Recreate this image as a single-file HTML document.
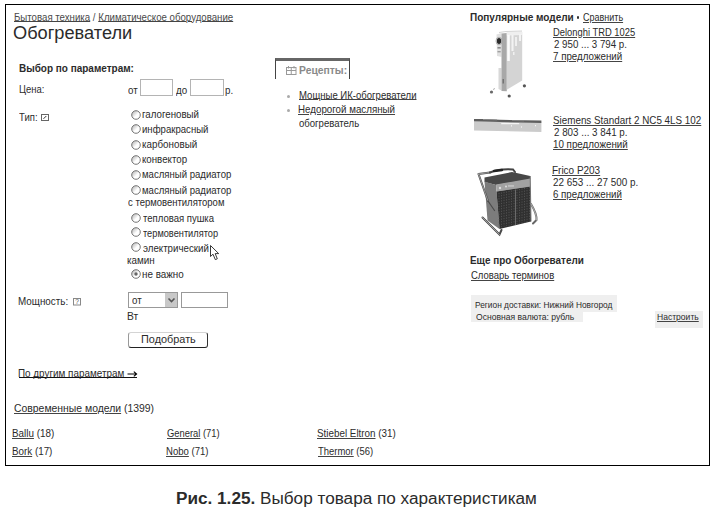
<!DOCTYPE html>
<html><head><meta charset="utf-8"><style>
html,body{margin:0;padding:0;background:#fff;}
body{width:716px;height:511px;position:relative;overflow:hidden;font-family:"Liberation Sans", sans-serif;color:#2b2b2b;}
.t{position:absolute;white-space:nowrap;transform-origin:0 0;}
.r{position:absolute;box-sizing:border-box;}
svg.r{overflow:visible;}

u{text-decoration:underline;text-decoration-thickness:1px;text-underline-offset:0.6px;text-decoration-color:#444;}
#frame{position:absolute;left:5px;top:4px;width:705px;height:462px;border:1px solid #000;box-sizing:border-box;}

</style></head><body>
<div id="frame"></div>
<div class="r" style="left:140px;top:79px;width:33px;height:17px;border:1px solid #b4b4b4;"></div>
<div class="r" style="left:190px;top:79px;width:34px;height:17px;border:1px solid #b4b4b4;"></div>
<svg class="r" style="left:41px;top:114px" width="8" height="7" viewBox="0 0 8 7"><rect x="0.5" y="0.5" width="7" height="6" fill="#fff" stroke="#666" stroke-width="1"/><path d="M2.5 4.8 L5.3 2" stroke="#333" stroke-width="1"/></svg>
<svg class="r" style="left:130.8px;top:109.6px" width="10" height="10" viewBox="0 0 10 10"><defs><linearGradient id="g0" x1="0" y1="0" x2="1" y2="1"><stop offset="0" stop-color="#aaa"/><stop offset="0.55" stop-color="#fff"/></linearGradient></defs><circle cx="5" cy="5" r="4.3" fill="url(#g0)" stroke="#666" stroke-width="0.9"/></svg>
<svg class="r" style="left:130.8px;top:124.3px" width="10" height="10" viewBox="0 0 10 10"><defs><linearGradient id="g1" x1="0" y1="0" x2="1" y2="1"><stop offset="0" stop-color="#aaa"/><stop offset="0.55" stop-color="#fff"/></linearGradient></defs><circle cx="5" cy="5" r="4.3" fill="url(#g1)" stroke="#666" stroke-width="0.9"/></svg>
<svg class="r" style="left:130.8px;top:139.6px" width="10" height="10" viewBox="0 0 10 10"><defs><linearGradient id="g2" x1="0" y1="0" x2="1" y2="1"><stop offset="0" stop-color="#aaa"/><stop offset="0.55" stop-color="#fff"/></linearGradient></defs><circle cx="5" cy="5" r="4.3" fill="url(#g2)" stroke="#666" stroke-width="0.9"/></svg>
<svg class="r" style="left:130.8px;top:154.8px" width="10" height="10" viewBox="0 0 10 10"><defs><linearGradient id="g3" x1="0" y1="0" x2="1" y2="1"><stop offset="0" stop-color="#aaa"/><stop offset="0.55" stop-color="#fff"/></linearGradient></defs><circle cx="5" cy="5" r="4.3" fill="url(#g3)" stroke="#666" stroke-width="0.9"/></svg>
<svg class="r" style="left:130.8px;top:170.1px" width="10" height="10" viewBox="0 0 10 10"><defs><linearGradient id="g4" x1="0" y1="0" x2="1" y2="1"><stop offset="0" stop-color="#aaa"/><stop offset="0.55" stop-color="#fff"/></linearGradient></defs><circle cx="5" cy="5" r="4.3" fill="url(#g4)" stroke="#666" stroke-width="0.9"/></svg>
<svg class="r" style="left:130.8px;top:185.4px" width="10" height="10" viewBox="0 0 10 10"><defs><linearGradient id="g5" x1="0" y1="0" x2="1" y2="1"><stop offset="0" stop-color="#aaa"/><stop offset="0.55" stop-color="#fff"/></linearGradient></defs><circle cx="5" cy="5" r="4.3" fill="url(#g5)" stroke="#666" stroke-width="0.9"/></svg>
<svg class="r" style="left:130.8px;top:212.8px" width="10" height="10" viewBox="0 0 10 10"><defs><linearGradient id="g6" x1="0" y1="0" x2="1" y2="1"><stop offset="0" stop-color="#aaa"/><stop offset="0.55" stop-color="#fff"/></linearGradient></defs><circle cx="5" cy="5" r="4.3" fill="url(#g6)" stroke="#666" stroke-width="0.9"/></svg>
<svg class="r" style="left:130.8px;top:227.4px" width="10" height="10" viewBox="0 0 10 10"><defs><linearGradient id="g7" x1="0" y1="0" x2="1" y2="1"><stop offset="0" stop-color="#aaa"/><stop offset="0.55" stop-color="#fff"/></linearGradient></defs><circle cx="5" cy="5" r="4.3" fill="url(#g7)" stroke="#666" stroke-width="0.9"/></svg>
<svg class="r" style="left:130.8px;top:242.4px" width="10" height="10" viewBox="0 0 10 10"><defs><linearGradient id="g8" x1="0" y1="0" x2="1" y2="1"><stop offset="0" stop-color="#aaa"/><stop offset="0.55" stop-color="#fff"/></linearGradient></defs><circle cx="5" cy="5" r="4.3" fill="url(#g8)" stroke="#666" stroke-width="0.9"/></svg>
<svg class="r" style="left:130.8px;top:268.7px" width="10" height="10" viewBox="0 0 10 10"><defs><linearGradient id="g9" x1="0" y1="0" x2="1" y2="1"><stop offset="0" stop-color="#aaa"/><stop offset="0.55" stop-color="#fff"/></linearGradient></defs><circle cx="5" cy="5" r="4.3" fill="url(#g9)" stroke="#666" stroke-width="0.9"/><circle cx="5" cy="5" r="1.7" fill="#666"/></svg>
<svg class="r" style="left:210px;top:245px" width="11" height="16" viewBox="0 0 11 16"><path d="M0.5 0.5 L0.5 11.5 L3 9.2 L5.3 14.6 L7.3 13.8 L5.2 8.6 L8.7 8.6 Z" fill="#fff" stroke="#222" stroke-width="0.9" stroke-linejoin="miter"/></svg>
<svg class="r" style="left:72.5px;top:298px" width="8" height="8" viewBox="0 0 8 8"><rect x="0.5" y="0.5" width="7" height="6.5" fill="#fff" stroke="#888" stroke-width="1"/><text x="4" y="6.3" font-size="6.5" text-anchor="middle" fill="#555" font-family="Liberation Sans">?</text></svg>
<div class="r" style="left:128px;top:292px;width:50px;height:16px;border:1px solid #999;background:#fff;"></div>
<div class="r" style="left:165px;top:293px;width:12px;height:14px;background:#c8c8c8;"></div>
<svg class="r" style="left:168px;top:298px" width="7" height="5" viewBox="0 0 7 5"><path d="M0.5 0.5 L3.5 3.5 L6.5 0.5" fill="none" stroke="#555" stroke-width="1.6"/></svg>
<div class="r" style="left:181px;top:292px;width:47px;height:16px;border:1px solid #999;"></div>
<div class="r" style="left:128px;top:332px;width:80px;height:16px;border:1px solid #999;border-top-color:#d4d4d4;border-right-color:#333;border-bottom-color:#222;border-radius:3px;background:#fff;"></div>
<svg class="r" style="left:126.5px;top:370.5px" width="11" height="6" viewBox="0 0 11 6"><path d="M0.5 3 H9.5 M6.8 0.6 L9.6 3 L6.8 5.4" fill="none" stroke="#000" stroke-width="1.1"/></svg>
<div class="r" style="left:18.5px;top:377px;width:118.5px;height:1px;background:#111;"></div>
<div class="r" style="left:275px;top:58px;width:75px;height:21px;border-top:3px solid #666;border-left:1px solid #444;border-right:1px solid #444;"></div>
<svg class="r" style="left:286px;top:66px" width="11" height="9" viewBox="0 0 11 9"><rect x="0.5" y="1.5" width="9.5" height="7" fill="none" stroke="#999" stroke-width="1"/><path d="M5.25 1.5 V8.5 M0.5 4.5 H10" stroke="#999" stroke-width="1"/><path d="M2.5 0 V2.5 M8 0 V2.5" stroke="#999" stroke-width="1"/></svg>
<div class="r" style="left:286.5px;top:94.5px;width:3px;height:3px;background:#aaa;border-radius:50%;"></div>
<div class="r" style="left:286.5px;top:108.5px;width:3px;height:3px;background:#aaa;border-radius:50%;"></div>
<div class="r" style="left:576.6px;top:16.4px;width:2.6px;height:2.6px;background:#333;border-radius:50%;"></div>
<div class="r" style="left:471px;top:295px;width:146px;height:17px;background:#efefef;"></div>
<div class="r" style="left:471px;top:311px;width:112px;height:11px;background:#efefef;"></div>
<div class="r" style="left:655px;top:311px;width:48px;height:17px;background:#efefef;"></div>
<svg class="r" style="left:0;top:0" width="716" height="260" viewBox="0 0 716 260">
<!-- Delonghi radiator -->
<path d="M496.5 34.5 L501.5 33 L501.5 57 L497 56 Z" fill="#e0e0e0"/>
<path d="M498.5 68 L501.5 68 L501.5 90.5 L498.5 89 Z" fill="#d8d8d8"/>
<path d="M501.5 33.5 L506.8 33 L506.8 91.2 L501.5 91 Z" fill="#a8a8a8"/>
<path d="M506.8 32.2 L522.2 32 L522.2 80.5 L506.8 89.8 Z" fill="#d4d4d4"/>
<path d="M506.8 32 L522 31.5 L522 35 L506.8 35.5 Z" fill="#efefef"/>
<rect x="507.2" y="35" width="2.6" height="26" fill="#fbfbfb"/>
<rect x="511.5" y="35" width="2" height="16" fill="#f3f3f3"/>
<rect x="515.2" y="37" width="1.6" height="9" fill="#f6f6f6"/>
<rect x="519" y="34" width="2" height="7" fill="#f3f3f3"/>
<rect x="513" y="52" width="1.5" height="3" fill="#f0f0f0"/>
<path d="M499 32.5 L506 31.5 L522 31" fill="none" stroke="#c8c8c8" stroke-width="0.8"/>
<ellipse cx="499" cy="41" rx="2.2" ry="3" fill="#2a2a2a"/>
<ellipse cx="499" cy="41" rx="3" ry="3.8" fill="none" stroke="#999" stroke-width="0.7"/>
<rect x="497.5" y="47" width="3.2" height="1.6" fill="#8a8a8a"/>
<rect x="497.5" y="51" width="3.2" height="1.4" fill="#a0a0a0"/>
<rect x="502.6" y="79" width="1.2" height="4.5" fill="#666"/>
<circle cx="524.4" cy="85.8" r="1.6" fill="#555"/>
<circle cx="509.2" cy="96" r="1.6" fill="#555"/>
<circle cx="491.5" cy="92" r="1.6" fill="#6a6a6a"/>
<path d="M493 89.5 L495 88.5" stroke="#999" stroke-width="0.8"/>
<!-- Siemens convector -->
<path d="M474 121 L541.4 122.5 L541.4 132 L474 130.6 Z" fill="#cbcbcb"/>
<path d="M474 119 L484 119 L500 119.8 L541.4 120.5 L541.4 123 L500 122 L474 121.2 Z" fill="#5e5e5e"/>
<path d="M483 119 L497 119.4 L497 120.3 L483 120 Z" fill="#8c8c8c"/>
<path d="M512 120.2 L524 120.4 L524 121.3 L512 121.1 Z" fill="#8c8c8c"/>
<rect x="501.2" y="123.1" width="18" height="1.1" fill="#fafafa"/>
<rect x="511" y="125.4" width="1" height="1" fill="#fff"/>
<rect x="521" y="126.5" width="1" height="1" fill="#fff"/>
<rect x="535" y="125.2" width="1" height="1" fill="#fff"/>
<!-- Frico heater -->
<path d="M484.5 177.5 L512 172 L530.2 176 L530.2 179.5 L496 185 L484.5 182 Z" fill="#474747"/>
<path d="M484.5 181.5 L496 185 L499.5 229 L487.5 220.5 Z" fill="#7c7c7c"/>
<path d="M496 184.5 L530.2 178.5 L530.2 186.5 L496.5 191.5 Z" fill="#a2a2a2"/>
<circle cx="500" cy="188" r="1.2" fill="#ddd"/>
<circle cx="506" cy="186.5" r="1" fill="#ddd"/>
<rect x="508" y="185.3" width="6" height="1.3" fill="#ccc"/>
<path d="M496.5 191.5 L530.2 186.5 L531 221.5 L499.5 229 Z" fill="#303030"/>
<g stroke="#606060" stroke-width="0.7" stroke-dasharray="1.2 1.4">
<path d="M499 193 V227.5 M501.5 192.5 V227 M504 192 V226.5 M506.5 191.5 V226 M509 191 V225.5 M511.5 190.5 V225 M514 190 V224.5 M517 189.5 V224 M519.5 189 V223.5 M522 188.5 V223 M524.5 188 V222.5 M527 187.5 V222 M529.5 187 V221.5"/>
</g>
<path d="M515.5 189.5 V225" stroke="#6a6a6a" stroke-width="1"/>
<path d="M530.2 176 L531 221.5" stroke="#707070" stroke-width="1"/>
<g fill="none" stroke-linecap="round">
<path d="M478.5 174 L490 172.5 M478.5 174 L488 201" stroke="#4a4a4a" stroke-width="2"/>
<path d="M478.5 174 L490 172.5 M478.5 174 L488 201" stroke="#cfcfcf" stroke-width="0.6"/>
<path d="M490 172.5 Q500 168.5 513 169.5 L515 172" stroke="#444" stroke-width="2"/>
<path d="M494 171 L502 170" stroke="#222" stroke-width="2.4"/>
<path d="M488 201 L494.5 210.5" stroke="#4a4a4a" stroke-width="1.2"/>
<path d="M482.5 217.5 L499.5 234.5 L501.5 230" stroke="#4a4a4a" stroke-width="2"/>
<path d="M482.5 217.5 L499.5 234.5" stroke="#cfcfcf" stroke-width="0.6"/>
<path d="M531 204 Q537 214 536.5 220 L533 223.5" stroke="#666" stroke-width="2"/>
<path d="M531 204 Q537 214 536.5 220" stroke="#ddd" stroke-width="0.6"/>
</g>
</svg>

<div class="t" style="left:14.00px;top:12.00px;font-size:10.6px;line-height:10.6px;transform:scaleX(0.9124);color:#4a4a4a;"><u style="text-underline-offset:-0.4px">Бытовая техника</u> / <u style="text-underline-offset:-0.4px">Климатическое оборудование</u></div>
<div class="t" style="left:12.96px;top:25.00px;font-size:17.5px;line-height:17.5px;transform:scaleX(1.0398);">Обогреватели</div>
<div class="t" style="left:19.02px;top:64.00px;font-size:10.2px;line-height:10.2px;transform:scaleX(0.9784);font-weight:bold;">Выбор по параметрам:</div>
<div class="t" style="left:19.01px;top:84.00px;font-size:10.6px;line-height:10.6px;transform:scaleX(0.8926);">Цена:</div>
<div class="t" style="left:127.50px;top:85.00px;font-size:10.6px;line-height:10.6px;transform:scaleX(0.9200);">от</div>
<div class="t" style="left:175.60px;top:85.00px;font-size:10.6px;line-height:10.6px;transform:scaleX(0.9200);">до</div>
<div class="t" style="left:225.48px;top:85.00px;font-size:10.6px;line-height:10.6px;transform:scaleX(0.9200);">р.</div>
<div class="t" style="left:19.00px;top:112.00px;font-size:10.6px;line-height:10.6px;transform:scaleX(0.9000);">Тип:</div>
<div class="t" style="left:141.88px;top:109.00px;font-size:10.6px;line-height:10.6px;transform:scaleX(0.9180);">галогеновый</div>
<div class="t" style="left:141.89px;top:124.00px;font-size:10.6px;line-height:10.6px;transform:scaleX(0.9056);">инфракрасный</div>
<div class="t" style="left:141.87px;top:139.00px;font-size:10.6px;line-height:10.6px;transform:scaleX(0.9276);">карбоновый</div>
<div class="t" style="left:141.88px;top:154.00px;font-size:10.6px;line-height:10.6px;transform:scaleX(0.9167);">конвектор</div>
<div class="t" style="left:141.90px;top:169.00px;font-size:10.6px;line-height:10.6px;transform:scaleX(0.9041);">масляный радиатор</div>
<div class="t" style="left:141.90px;top:185.00px;font-size:10.6px;line-height:10.6px;transform:scaleX(0.9041);">масляный радиатор</div>
<div class="t" style="left:142.80px;top:213.00px;font-size:10.6px;line-height:10.6px;transform:scaleX(0.9000);">тепловая пушка</div>
<div class="t" style="left:142.80px;top:228.00px;font-size:10.6px;line-height:10.6px;transform:scaleX(0.8709);">термовентилятор</div>
<div class="t" style="left:142.80px;top:243.00px;font-size:10.6px;line-height:10.6px;transform:scaleX(0.9169);">электрический</div>
<div class="t" style="left:141.87px;top:269.00px;font-size:10.6px;line-height:10.6px;transform:scaleX(0.9295);">не важно</div>
<div class="t" style="left:128.00px;top:197.00px;font-size:10.6px;line-height:10.6px;transform:scaleX(0.8963);">с термовентилятором</div>
<div class="t" style="left:127.07px;top:255.00px;font-size:10.6px;line-height:10.6px;transform:scaleX(0.9321);">камин</div>
<div class="t" style="left:18.47px;top:296.00px;font-size:10.6px;line-height:10.6px;transform:scaleX(0.9308);">Мощность:</div>
<div class="t" style="left:132.00px;top:295.00px;font-size:10.6px;line-height:10.6px;transform:scaleX(0.9200);">от</div>
<div class="t" style="left:127.23px;top:311.00px;font-size:10.6px;line-height:10.6px;transform:scaleX(0.9700);">Вт</div>
<div class="t" style="left:140.55px;top:335.00px;font-size:10.4px;line-height:10.4px;transform:scaleX(1.0471);">Подобрать</div>
<div class="t" style="left:17.87px;top:368.00px;font-size:10.6px;line-height:10.6px;transform:scaleX(0.9330);">По другим параметрам</div>
<div class="t" style="left:13.50px;top:403.00px;font-size:11px;line-height:11px;transform:scaleX(0.9459);"><u>Современные модели</u> (1399)</div>
<div class="t" style="left:12.07px;top:428.00px;font-size:10.6px;line-height:10.6px;transform:scaleX(0.9318);"><u>Ballu</u> (18)</div>
<div class="t" style="left:12.07px;top:446.00px;font-size:10.6px;line-height:10.6px;transform:scaleX(0.9262);"><u>Bork</u> (17)</div>
<div class="t" style="left:166.50px;top:428.00px;font-size:10.6px;line-height:10.6px;transform:scaleX(0.8847);"><u>General</u> (71)</div>
<div class="t" style="left:165.60px;top:446.00px;font-size:10.6px;line-height:10.6px;transform:scaleX(0.9022);"><u>Nobo</u> (71)</div>
<div class="t" style="left:317.47px;top:428.00px;font-size:10.6px;line-height:10.6px;transform:scaleX(0.9289);"><u>Stiebel Eltron</u> (31)</div>
<div class="t" style="left:318.40px;top:446.00px;font-size:10.6px;line-height:10.6px;transform:scaleX(0.8918);"><u>Thermor</u> (56)</div>
<div class="t" style="left:299.04px;top:65.00px;font-size:10.8px;line-height:10.8px;transform:scaleX(0.9583);font-weight:bold;color:#8a8a8a;">Рецепты:</div>
<div class="t" style="left:298.60px;top:90.00px;font-size:10.6px;line-height:10.6px;transform:scaleX(0.9023);"><u style="text-underline-offset:-0.4px">Мощные ИК-обогреватели</u></div>
<div class="t" style="left:297.68px;top:104.00px;font-size:10.6px;line-height:10.6px;transform:scaleX(0.9212);"><u>Недорогой масляный</u></div>
<div class="t" style="left:298.60px;top:118.00px;font-size:10.6px;line-height:10.6px;transform:scaleX(0.9030);">обогреватель</div>
<div class="t" style="left:470.07px;top:12.00px;font-size:10.8px;line-height:10.8px;transform:scaleX(0.9273);font-weight:bold;">Популярные модели</div>
<div class="t" style="left:583.00px;top:12.00px;font-size:10.6px;line-height:10.6px;transform:scaleX(0.8489);"><u>Сравнить</u></div>
<div class="t" style="left:553.02px;top:27.00px;font-size:10.6px;line-height:10.6px;transform:scaleX(0.8848);"><u>Delonghi TRD 1025</u></div>
<div class="t" style="left:553.90px;top:39.00px;font-size:10.6px;line-height:10.6px;transform:scaleX(0.9177);">2 950 ... 3 794 р.</div>
<div class="t" style="left:552.98px;top:51.00px;font-size:10.6px;line-height:10.6px;transform:scaleX(0.9219);"><u>7 предложений</u></div>
<div class="t" style="left:552.87px;top:115.00px;font-size:10.6px;line-height:10.6px;transform:scaleX(0.9291);"><u>Siemens Standart 2 NC5 4LS 102</u></div>
<div class="t" style="left:553.80px;top:127.00px;font-size:10.6px;line-height:10.6px;transform:scaleX(0.9241);">2 803 ... 3 841 р.</div>
<div class="t" style="left:552.88px;top:139.00px;font-size:10.6px;line-height:10.6px;transform:scaleX(0.9241);"><u>10 предложений</u></div>
<div class="t" style="left:552.46px;top:165.00px;font-size:10.6px;line-height:10.6px;transform:scaleX(0.9400);"><u>Frico P203</u></div>
<div class="t" style="left:553.40px;top:177.00px;font-size:10.6px;line-height:10.6px;transform:scaleX(0.9333);">22 653 ... 27 500 р.</div>
<div class="t" style="left:553.40px;top:189.00px;font-size:10.6px;line-height:10.6px;transform:scaleX(0.9176);"><u>6 предложений</u></div>
<div class="t" style="left:469.98px;top:255.00px;font-size:10.8px;line-height:10.8px;transform:scaleX(0.9171);font-weight:bold;">Еще про Обогреватели</div>
<div class="t" style="left:470.90px;top:270.00px;font-size:10.6px;line-height:10.6px;transform:scaleX(0.8978);"><u>Словарь терминов</u></div>
<div class="t" style="left:474.91px;top:301.00px;font-size:8.4px;line-height:8.4px;transform:scaleX(0.9949);">Регион доставки: Нижний Новгород</div>
<div class="t" style="left:475.90px;top:313.00px;font-size:8.6px;line-height:8.6px;transform:scaleX(0.9960);">Основная валюта: рубль</div>
<div class="t" style="left:657.18px;top:313.00px;font-size:8.4px;line-height:8.4px;transform:scaleX(1.0200);"><u>Настроить</u></div>
<div class="t" style="left:176.13px;top:491.00px;font-size:16px;line-height:16px;transform:scaleX(1.0725);"><b>Рис. 1.25.</b> Выбор товара по характеристикам</div>
</body></html>
